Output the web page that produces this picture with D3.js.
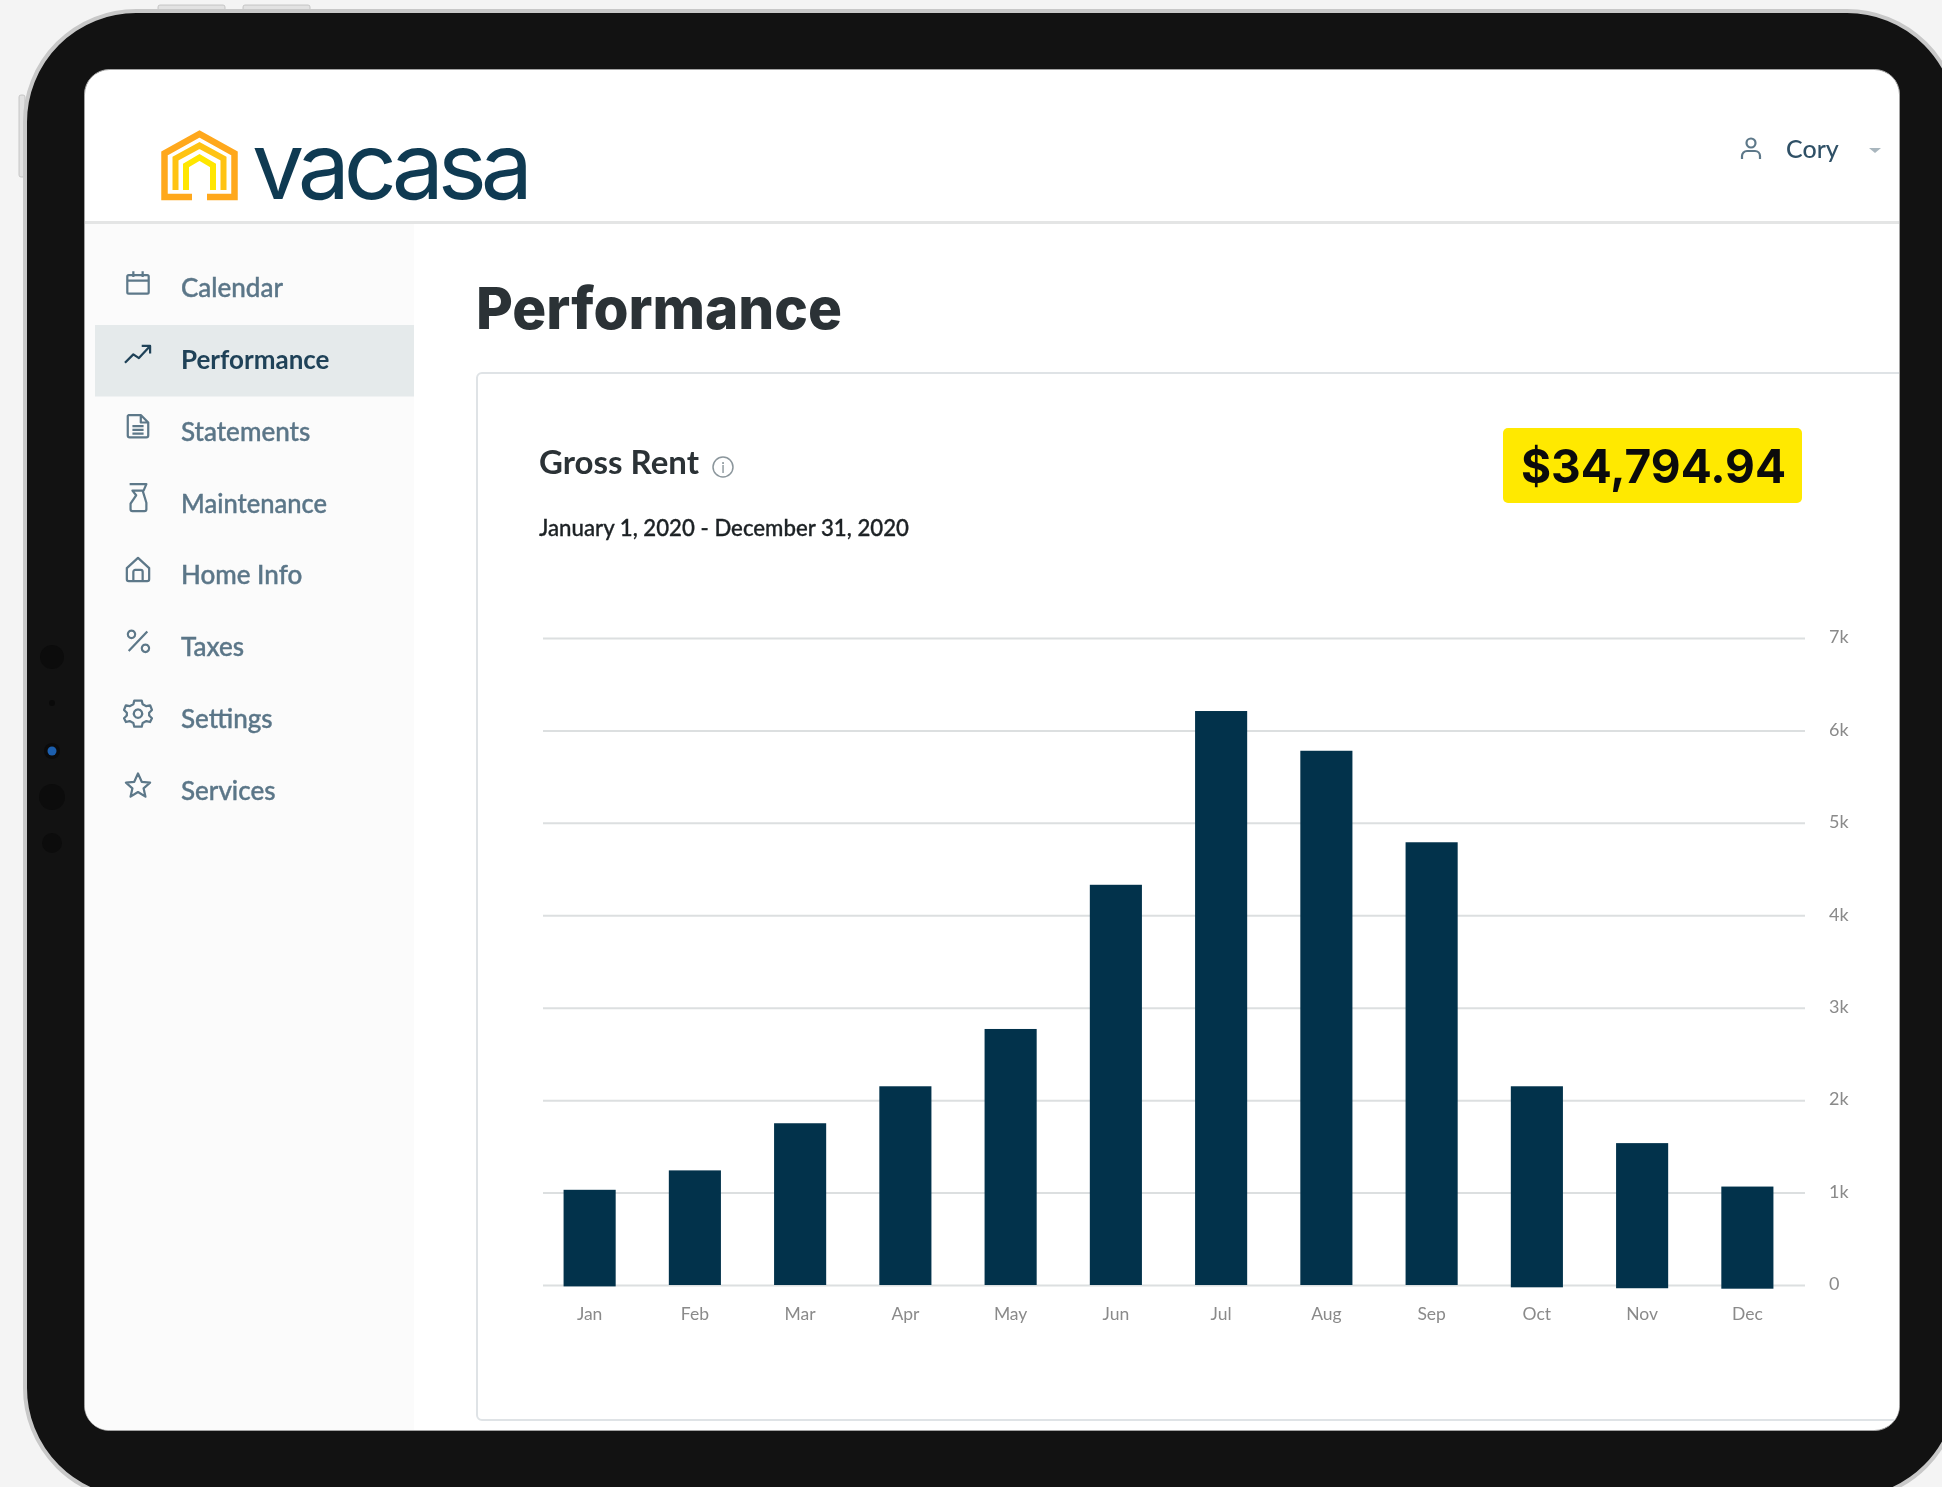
<!DOCTYPE html>
<html>
<head>
<meta charset="utf-8">
<script src="https://cdn.jsdelivr.net/npm/d3@7"></script>
<style>
  html, body { margin: 0; padding: 0; background: #f4f4f4; }
  svg { display: block; filter: blur(0.55px); font-family: Lato, "Noto Sans", sans-serif; }
</style>
</head>
<body>
<svg id="chart" width="1942" height="1487"></svg>
<script>
// values
const months = ['Jan', 'Feb', 'Mar', 'Apr', 'May', 'Jun', 'Jul', 'Aug', 'Sep', 'Oct', 'Nov', 'Dec'];
const grossRent = [1030, 1240, 1750, 2150, 2770, 4330, 6210, 5780, 4790, 2150, 1535, 1065];
// a few bars in the screenshot run slightly under the zero line
const barBase = [-15, 0, 0, 0, 0, 0, 0, 0, 0, -25, -35, -40];
const yTicks = [0, 1000, 2000, 3000, 4000, 5000, 6000, 7000];
const navItems = ['Calendar', 'Performance', 'Statements', 'Maintenance', 'Home Info', 'Taxes', 'Settings', 'Services'];
const activeNav = 'Performance';

const navIcons = {
    Calendar: 'M-10,-8h20a1.5,1.5 0 0 1 1.5,1.5v17a1.5,1.5 0 0 1 -1.5,1.5h-20a1.5,1.5 0 0 1 -1.5,-1.5v-17a1.5,1.5 0 0 1 1.5,-1.5zM-11.5,-2h23M-5,-12v6M5,-12v6',
    Performance: 'M-14,9L-5,0L1,4L12,-8M4,-9H13V-1',
    Statements: 'M-10,-12H3L11,-4V10a2,2 0 0 1 -2,2H-9a2,2 0 0 1 -2,-2V-11zM3,-12V-4H11M-6,0H6M-6,4H6M-6,8H6',
    Maintenance: 'M-9,-15H9L6,-8H-6L-2,-3L-8,6V12a2,2 0 0 0 2,2H7a2,2 0 0 0 2,-2V5L5,-8',
    'Home Info': 'M-12,-2L0,-13L12,-2V10a2,2 0 0 1 -2,2H-10a2,2 0 0 1 -2,-2zM-5,12V2a2,2 0 0 1 2,-2H3a2,2 0 0 1 2,2V12',
    Taxes: 'M-10,10L10,-11M-7,-12a4,4 0 1 0 0.01,0zM8,3a4,4 0 1 0 0.01,0z',
    Settings: 'M-4,-14H4L5,-10L9,-8L13,-9L15,-4L12,-1V2L15,5L13,9L9,8L5,10L4,14H-4L-5,10L-9,8L-13,9L-15,5L-12,2V-1L-15,-4L-13,-9L-9,-8L-5,-10zM0,-4.5a4.5,4.5 0 1 0 0.01,0z',
    Services: 'M0,-13L4,-4L13,-3L6,3L8,12L0,7L-8,12L-6,3L-13,-3L-4,-4z'
};

const svg = d3.select('#chart');

// tablet body
const device = svg.append('g');
[[158, 225], [243, 310]].forEach(b => {
    device.append('rect').attr('x', b[0]).attr('y', 5).attr('width', b[1] - b[0]).attr('height', 6)
        .attr('rx', 2).attr('fill', '#e2e2e2').attr('stroke', '#bdbdbd').attr('stroke-width', 0.8);
});
device.append('rect').attr('x', 19).attr('y', 95).attr('width', 6).attr('height', 82)
    .attr('rx', 2).attr('fill', '#e2e2e2').attr('stroke', '#bdbdbd').attr('stroke-width', 0.8);
device.append('rect').attr('x', 25).attr('y', 11).attr('width', 1933).attr('height', 1488)
    .attr('rx', 111).attr('fill', '#121212').attr('stroke', '#c8c8c8').attr('stroke-width', 4);
[[657, 12, '#0c0c0c'], [703, 3, '#0a0a0a'], [797, 13, '#0c0c0c'], [843, 10, '#0c0c0c']].forEach(c => {
    device.append('circle').attr('cx', 52).attr('cy', c[0]).attr('r', c[1]).attr('fill', c[2]);
});
device.append('circle').attr('cx', 52).attr('cy', 751).attr('r', 8).attr('fill', '#0b0b0b');
device.append('circle').attr('cx', 52).attr('cy', 751).attr('r', 4.5).attr('fill', '#1c5fae');

// screen
svg.append('clipPath').attr('id', 'screen-clip').append('rect')
    .attr('x', 85).attr('y', 70).attr('width', 1814).attr('height', 1360).attr('rx', 24);
svg.append('rect').attr('x', 84.5).attr('y', 69.5).attr('width', 1815).attr('height', 1361).attr('rx', 25)
    .attr('fill', '#ffffff').attr('stroke', '#a2a2a2').attr('stroke-width', 1);
const screen = svg.append('g').attr('clip-path', 'url(#screen-clip)');

// sidebar
screen.append('rect').attr('x', 85).attr('y', 222).attr('width', 329).attr('height', 1208).attr('fill', '#fbfbfb');
screen.append('rect').attr('x', 95).attr('y', 325).attr('width', 319).attr('height', 71.5).attr('fill', '#e5eaeb');
screen.append('rect').attr('x', 85).attr('y', 221).attr('width', 1814).attr('height', 3).attr('fill', '#e4e5e5');

const navY = d3.scalePoint().domain(navItems).range([287, 790]);
const nav = screen.selectAll('.nav-item').data(navItems).enter().append('g')
    .attr('class', 'nav-item')
    .attr('transform', d => `translate(0, ${navY(d)})`);
nav.append('path')
    .attr('d', d => navIcons[d])
    .attr('transform', 'translate(138, -4.5) scale(0.93)')
    .attr('fill', 'none')
    .attr('stroke', d => d === activeNav ? '#1f4258' : '#5d7889')
    .attr('stroke-width', 2.4)
    .attr('stroke-linejoin', 'round');
nav.append('text')
    .attr('x', 181)
    .attr('y', 10)
    .attr('font-size', 26)
    .attr('textLength', d => d === 'Maintenance' ? 146 : null)
    .attr('lengthAdjust', 'spacingAndGlyphs')
    .attr('font-weight', d => d === activeNav ? 700 : 500)
    .attr('fill', d => d === activeNav ? '#1f4258' : '#5b7688')
    .attr('stroke', d => d === activeNav ? 'none' : '#5b7688')
    .attr('stroke-width', 0.4)
    .text(d => d);

// logo
const logo = screen.append('g').attr('fill', 'none').attr('stroke-linejoin', 'miter');
logo.append('path').attr('d', 'M192,197H164.5V153.5L199.5,134L234.5,153.5V197H207')
    .attr('stroke', '#ffa81c').attr('stroke-width', 6.5);
logo.append('path').attr('d', 'M175.5,190V158.5L199.5,145.5L223.5,158.5V190')
    .attr('stroke', '#ffc313').attr('stroke-width', 6);
logo.append('path').attr('d', 'M186,190V165.5L199.5,157.5L213,165.5V190')
    .attr('stroke', '#ffe600').attr('stroke-width', 6);
screen.append('text')
    .attr('x', 252).attr('y', 199)
    .attr('font-family', 'Inter, sans-serif')
    .attr('font-size', 93)
    .attr('font-weight', 400)
    .attr('textLength', 281).attr('lengthAdjust', 'spacing')
    .attr('fill', '#0f3a52')
    .text('vacasa');

// user menu
const user = screen.append('g').attr('transform', 'translate(1751, 149)')
    .attr('fill', 'none').attr('stroke', '#5d7889').attr('stroke-width', 2.2);
user.append('circle').attr('cy', -6).attr('r', 4.5);
user.append('path').attr('d', 'M-9,10V7a5,5 0 0 1 5,-5H4a5,5 0 0 1 5,5V10');
screen.append('text').attr('x', 1786).attr('y', 158)
    .attr('font-size', 25).attr('font-weight', 500).attr('fill', '#2f5066').text('Cory');
screen.append('path').attr('d', 'M1869,148H1881L1875,153z').attr('fill', '#a9b6be');

// page heading
screen.append('text').attr('x', 476).attr('y', 329)
    .attr('font-family', 'Inter, sans-serif')
    .attr('font-size', 58).attr('font-weight', 800)
    .attr('textLength', 366).attr('lengthAdjust', 'spacingAndGlyphs')
    .attr('fill', '#2b3236').text('Performance');

// card
screen.append('rect').attr('x', 477).attr('y', 373).attr('width', 1500).attr('height', 1047).attr('rx', 5)
    .attr('fill', '#ffffff').attr('stroke', '#dfe3e6').attr('stroke-width', 2);
screen.append('text').attr('x', 539).attr('y', 474)
    .attr('font-size', 32).attr('font-weight', 700)
    .attr('textLength', 160).attr('lengthAdjust', 'spacingAndGlyphs')
    .attr('fill', '#2b3236').text('Gross Rent');
const info = screen.append('g').attr('transform', 'translate(723, 467)');
info.append('circle').attr('r', 10).attr('fill', 'none').attr('stroke', '#8b969c').attr('stroke-width', 1.5);
info.append('text').attr('y', 6).attr('text-anchor', 'middle').attr('font-size', 15).attr('fill', '#8b969c').text('i');
screen.append('text').attr('x', 539).attr('y', 536)
    .attr('font-size', 22.5).attr('font-weight', 500)
    .attr('textLength', 370).attr('lengthAdjust', 'spacingAndGlyphs')
    .attr('stroke', '#1d2225').attr('stroke-width', 0.35)
    .attr('fill', '#1d2225').text('January 1, 2020 - December 31, 2020');

screen.append('rect').attr('x', 1503).attr('y', 428).attr('width', 299).attr('height', 75).attr('rx', 5).attr('fill', '#ffe900');
screen.append('text').attr('x', 1521).attr('y', 483)
    .attr('font-family', 'Inter, sans-serif')
    .attr('font-size', 47).attr('font-weight', 700)
    .attr('textLength', 265).attr('lengthAdjust', 'spacingAndGlyphs')
    .attr('fill', '#0b0b0b').text('$34,794.94');

// chart
const margin = { top: 638, right: 1805, bottom: 1285, left: 543 };

const xScale = d3.scaleBand()
    .domain(months)
    .range([537, 1800])
    .paddingInner(0.505)
    .paddingOuter(0.2525);

const yScale = d3.scaleLinear()
    .domain([0, 7000])
    .range([margin.bottom, margin.top]);

const yAxis = screen.append('g')
    .attr('transform', `translate(${margin.right}, 0)`)
    .call(d3.axisRight(yScale)
        .tickValues(yTicks)
        .tickSize(-(margin.right - margin.left))
        .tickPadding(24)
        .tickFormat(d => d === 0 ? '0' : `${d / 1000}k`));
yAxis.select('.domain').remove();
yAxis.selectAll('.tick line').attr('stroke', '#dcdfe0').attr('stroke-width', 2);
yAxis.selectAll('.tick text')
    .attr('y', -1)
    .attr('font-size', 18).attr('font-family', 'Lato, sans-serif').attr('fill', '#8a8a8a');

const xAxis = screen.append('g')
    .attr('transform', `translate(0, ${margin.bottom})`)
    .call(d3.axisBottom(xScale).tickSize(0).tickPadding(23));
xAxis.select('.domain').remove();
xAxis.selectAll('.tick text')
    .attr('font-size', 17.5).attr('font-family', 'Lato, sans-serif').attr('fill', '#8a8a8a');

screen.selectAll('.bar')
    .data(months)
    .enter()
    .append('rect')
    .attr('class', 'bar')
    .attr('x', d => xScale(d))
    .attr('width', xScale.bandwidth())
    .attr('y', (d, i) => yScale(grossRent[i]))
    .attr('height', (d, i) => yScale(barBase[i]) - yScale(grossRent[i]))
    .attr('fill', '#02324b');
</script>
</body>
</html>
